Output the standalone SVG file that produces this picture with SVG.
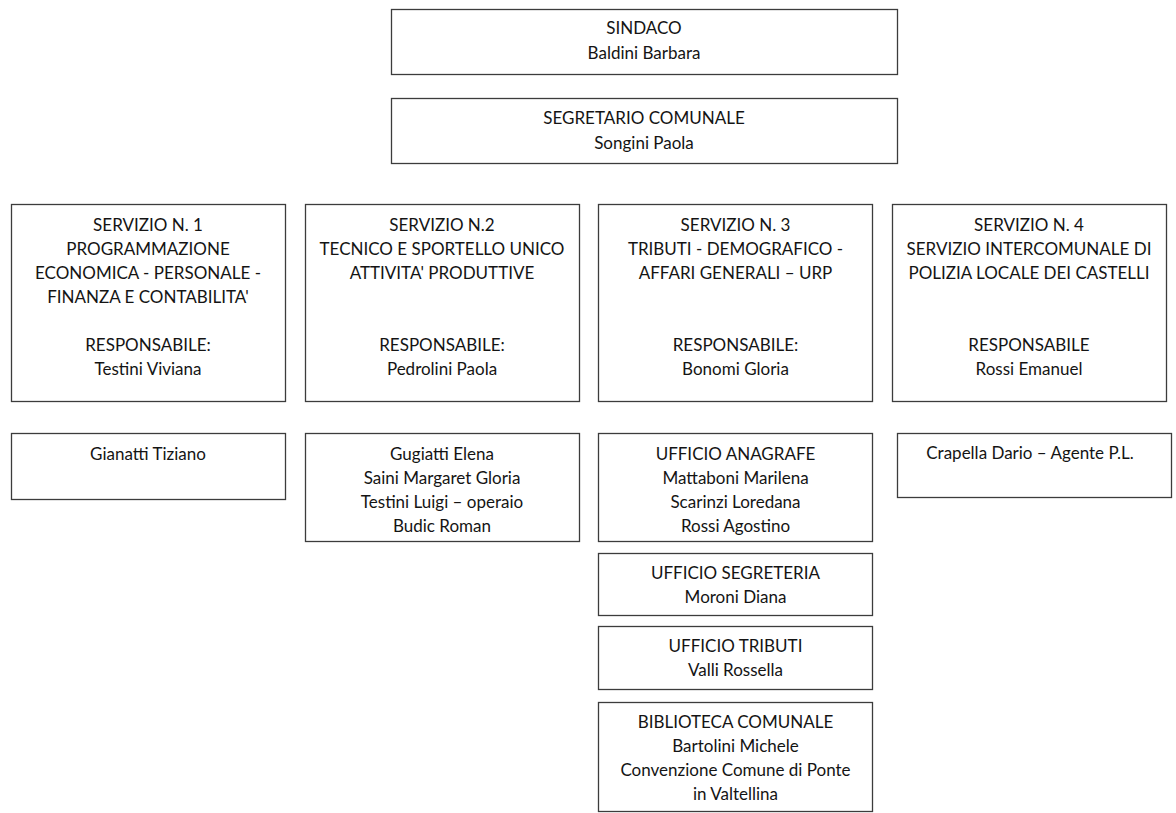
<svg xmlns="http://www.w3.org/2000/svg" width="1176" height="813" viewBox="0 0 1176 813">
<style>
rect{fill:#fff;stroke:#3c3c3c;stroke-width:1.3}
text{font-family:Lato,"Open Sans","Liberation Sans",sans-serif;font-size:17px;fill:#141414;text-anchor:middle}
</style>
<rect x="0" y="0" width="1176" height="813" style="stroke:none"/>
<g id="connectors"/>
<g id="sindaco"><rect x="391.5" y="9.5" width="506" height="65"/>
<text x="644" y="34">SINDACO</text><text x="644" y="59">Baldini Barbara</text></g>
<g id="segretario"><rect x="391.5" y="98.5" width="506" height="65"/>
<text x="644" y="124">SEGRETARIO COMUNALE</text><text x="644" y="149">Songini Paola</text></g>
<g id="servizio1"><rect x="11.5" y="204.5" width="274" height="197"/>
<text x="148" y="231">SERVIZIO N. 1</text><text x="148" y="255">PROGRAMMAZIONE</text><text x="148" y="279">ECONOMICA - PERSONALE -</text><text x="148" y="303">FINANZA E CONTABILITA'</text><text x="148" y="351">RESPONSABILE:</text><text x="148" y="375">Testini Viviana</text></g>
<g id="servizio2"><rect x="305.5" y="204.5" width="274" height="197"/>
<text x="442" y="231">SERVIZIO N.2</text><text x="442" y="255">TECNICO E SPORTELLO UNICO</text><text x="442" y="279">ATTIVITA' PRODUTTIVE</text><text x="442" y="351">RESPONSABILE:</text><text x="442" y="375">Pedrolini Paola</text></g>
<g id="servizio3"><rect x="598.5" y="204.5" width="274" height="197"/>
<text x="735.5" y="231">SERVIZIO N. 3</text><text x="735.5" y="255">TRIBUTI - DEMOGRAFICO -</text><text x="735.5" y="279">AFFARI GENERALI – URP</text><text x="735.5" y="351">RESPONSABILE:</text><text x="735.5" y="375">Bonomi Gloria</text></g>
<g id="servizio4"><rect x="892.5" y="204.5" width="274" height="197"/>
<text x="1029" y="231">SERVIZIO N. 4</text><text x="1029" y="255">SERVIZIO INTERCOMUNALE DI</text><text x="1029" y="279">POLIZIA LOCALE DEI CASTELLI</text><text x="1029" y="351">RESPONSABILE</text><text x="1029" y="375">Rossi Emanuel</text></g>
<g id="gianatti"><rect x="11.5" y="433.5" width="274" height="66"/>
<text x="148" y="460">Gianatti Tiziano</text></g>
<g id="gugiatti"><rect x="305.5" y="433.5" width="274" height="108"/>
<text x="442" y="460">Gugiatti Elena</text><text x="442" y="484">Saini Margaret Gloria</text><text x="442" y="508">Testini Luigi – operaio</text><text x="442" y="532">Budic Roman</text></g>
<g id="anagrafe"><rect x="598.5" y="433.5" width="274" height="108"/>
<text x="735.5" y="460">UFFICIO ANAGRAFE</text><text x="735.5" y="484">Mattaboni Marilena</text><text x="735.5" y="508">Scarinzi Loredana</text><text x="735.5" y="532">Rossi Agostino</text></g>
<g id="segreteria"><rect x="598.5" y="553.5" width="274" height="62"/>
<text x="735.5" y="579">UFFICIO SEGRETERIA</text><text x="735.5" y="603">Moroni Diana</text></g>
<g id="tributi"><rect x="598.5" y="626.5" width="274" height="63"/>
<text x="735.5" y="652">UFFICIO TRIBUTI</text><text x="735.5" y="676">Valli Rossella</text></g>
<g id="biblioteca"><rect x="598.5" y="702.5" width="274" height="109"/>
<text x="735.5" y="728">BIBLIOTECA COMUNALE</text><text x="735.5" y="752">Bartolini Michele</text><text x="735.5" y="776">Convenzione Comune di Ponte</text><text x="735.5" y="800">in Valtellina</text></g>
<g id="crapella"><rect x="897.5" y="433.5" width="274" height="64"/>
<text x="1030" y="459">Crapella Dario – Agente P.L.</text></g>
</svg>
